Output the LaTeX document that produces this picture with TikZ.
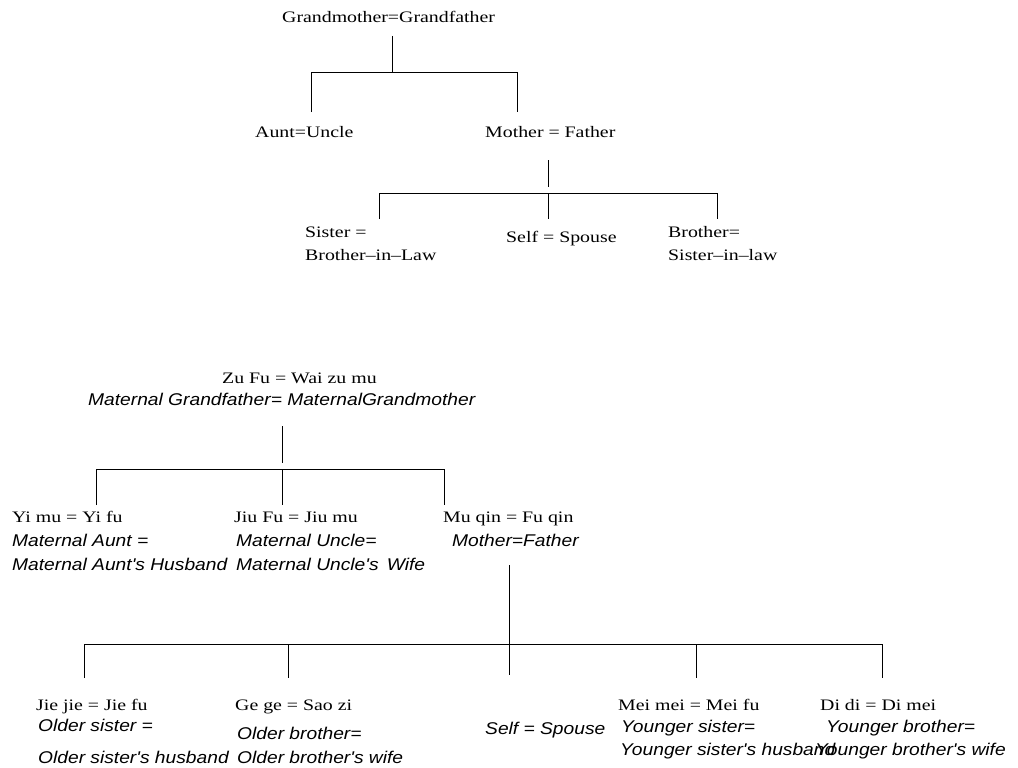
\documentclass[tikz,border=0pt]{standalone}
\usepackage{fontspec}
\newfontfamily\serfont[FakeStretch=1.24]{Liberation Serif}
\newfontfamily\itfont[FakeStretch=1.13]{Liberation Sans}
\begin{document}
\begin{tikzpicture}[x=1pt,y=-1pt,
  ser/.style={font=\serfont\fontsize{16}{19}\selectfont, inner sep=0pt, anchor=mid west, yshift=-3pt},
  ita/.style={font=\itfont\itshape\fontsize{17}{20}\selectfont, inner sep=0pt, anchor=mid west, yshift=-3pt},
  link/.style={line width=1pt, draw=black}]
\path[use as bounding box, fill=white] (0,0) rectangle (1018,768);

% ---------- top tree ----------
\node[ser] (gp) at (282,17) {Grandmother=Grandfather};
\node[ser] (au) at (255,132) {Aunt=Uncle};
\node[ser] (mf) at (485,132) {Mother = Father};
\node[ser] (sis1) at (305,232) {Sister =};
\node[ser] (sis2) at (305,255) {Brother–in–Law};
\node[ser] (self) at (506,237) {Self = Spouse};
\node[ser] (bro1) at (668,232) {Brother=};
\node[ser] (bro2) at (668,255) {Sister–in–law};

\coordinate (gpA) at (392,36);
\coordinate (gpB) at (392,73);
\coordinate (auT) at (311,112);
\coordinate (auJ) at (311,73);
\coordinate (mfJ) at (517,73);
\coordinate (mfT) at (517,112);
\draw[link] (gpA) -- (gpB);
\draw[link] (auT) -- (auJ) -- (mfJ) -- (mfT);

\coordinate (mfA) at (548,160);
\coordinate (mfB) at (548,187);
\coordinate (sisT) at (379,219);
\coordinate (sisJ) at (379,193);
\coordinate (broJ) at (717,193);
\coordinate (broT) at (717,219);
\coordinate (selfJ) at (548,193);
\coordinate (selfT) at (548,219);
\draw[link] (mfA) -- (mfB);
\draw[link] (sisT) -- (sisJ) -- (broJ) -- (broT);
\draw[link] (selfJ) -- (selfT);

% ---------- bottom tree ----------
\node[ser] (zf) at (222,378) {Zu Fu = Wai zu mu};
\node[ita] (zfe) at (88,400) {Maternal Grandfather= MaternalGrandmother};

\node[ser] (yi1) at (12,517) {Yi mu = Yi fu};
\node[ita] (yi2) at (12,541) {Maternal Aunt =};
\node[ita] (yi3) at (12,565) {Maternal Aunt's Husband};
\node[ser] (jiu1) at (234,517) {Jiu Fu = Jiu mu};
\node[ita] (jiu2) at (236,541) {Maternal Uncle=};
\node[ita] (jiu3) at (236,565) {Maternal Uncle's\, Wife};
\node[ser] (mu1) at (443,517) {Mu qin = Fu qin};
\node[ita] (mu2) at (452,541) {Mother=Father};

\coordinate (zfA) at (282,426);
\coordinate (zfB) at (282,463);
\coordinate (yiT) at (96,505);
\coordinate (yiJ) at (96,469);
\coordinate (muJ) at (444,469);
\coordinate (muT) at (444,505);
\coordinate (jiuJ) at (282,469);
\coordinate (jiuT) at (282,505);
\draw[link] (zfA) -- (zfB);
\draw[link] (yiT) -- (yiJ) -- (muJ) -- (muT);
\draw[link] (jiuJ) -- (jiuT);

\node[ser] (jj1) at (36,705) {Jie jie = Jie fu};
\node[ita] (jj2) at (38,726) {Older sister =};
\node[ita] (jj3) at (38,758) {Older sister's husband};
\node[ser] (gg1) at (235,705) {Ge ge = Sao zi};
\node[ita] (gg2) at (237,734) {Older brother=};
\node[ita] (gg3) at (237,758) {Older brother's wife};
\node[ita] (sf) at (485,729) {Self = Spouse};
\node[ser] (mm1) at (618,705) {Mei mei = Mei fu};
\node[ita] (mm2) at (621,727) {Younger sister=};
\node[ita] (mm3) at (620,750) {Younger sister's husband};
\node[ser] (dd1) at (820,705) {Di di = Di mei};
\node[ita] (dd2) at (826,727) {Younger brother=};
\node[ita] (dd3) at (815,750) {Younger brother's wife};

\coordinate (muA) at (509,565);
\coordinate (muB) at (509,675);
\coordinate (jjJ) at (84,644);
\coordinate (jjT) at (84,678);
\coordinate (ggJ) at (288,644);
\coordinate (ggT) at (288,678);
\coordinate (mmJ) at (696,644);
\coordinate (mmT) at (696,678);
\coordinate (ddJ) at (882,644);
\coordinate (ddT) at (882,678);
\draw[link] (muA) -- (muB);
\draw[link] (jjT) -- (jjJ) -- (ddJ) -- (ddT);
\draw[link] (ggJ) -- (ggT);
\draw[link] (mmJ) -- (mmT);
\end{tikzpicture}
\end{document}
